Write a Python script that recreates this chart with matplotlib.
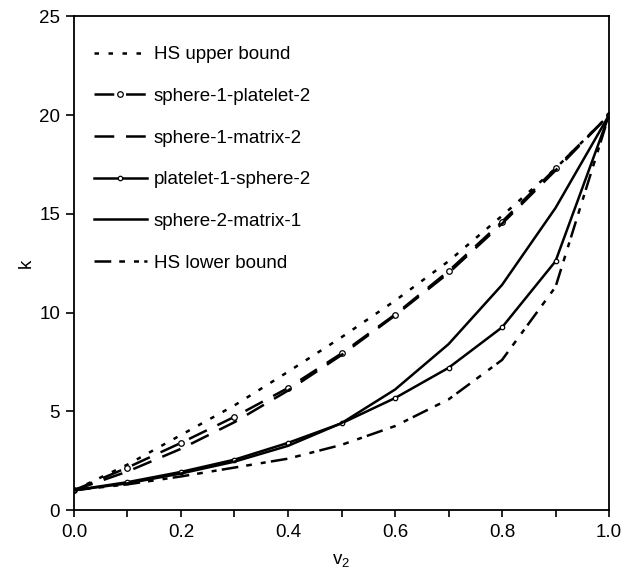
import matplotlib
matplotlib.use('Agg')
import matplotlib.pyplot as plt

plt.rcParams['font.family'] = ['Liberation Sans', 'DejaVu Sans']
plt.rcParams['mathtext.default'] = 'regular'

v2 = [0.0, 0.1, 0.2, 0.3, 0.4, 0.5, 0.6, 0.7, 0.8, 0.9, 1.0]

hs_upper = [1.0, 2.3, 3.8, 5.3, 7.0, 8.75, 10.6, 12.6, 14.9, 17.3, 20.0]
sph1_plt2 = [1.0, 2.15, 3.4, 4.72, 6.18, 7.93, 9.9, 12.1, 14.6, 17.3, 20.0]
sph1_mat2 = [1.0, 1.95, 3.1, 4.45, 6.05, 7.85, 9.85, 12.0, 14.5, 17.2, 20.0]
plt1_sph2 = [1.0, 1.41, 1.93, 2.55, 3.4, 4.39, 5.67, 7.2, 9.25, 12.6, 20.0]
sph2_mat1 = [1.0, 1.35, 1.85, 2.45, 3.25, 4.4, 6.1, 8.4, 11.4, 15.3, 20.0]
hs_lower = [1.0, 1.3, 1.7, 2.15, 2.6, 3.3, 4.25, 5.6, 7.6, 11.3, 20.0]

labels = ['HS upper bound', 'sphere-1-platelet-2', 'sphere-1-matrix-2',
          'platelet-1-sphere-2', 'sphere-2-matrix-1', 'HS lower bound']

fig = plt.figure(figsize=(6.4, 5.68), dpi=100)
ax = fig.add_axes([0.1156, 0.1021, 0.836, 0.869])

lw = 1.8
ax.plot(v2, hs_upper, color='black', lw=lw, dashes=(1.8, 3.8), label=labels[0])
ax.plot(v2, sph1_plt2, color='black', lw=lw, dashes=(7.9, 4.7), marker='o', ms=4,
        mfc='white', mec='black', mew=0.9, label=labels[1])
ax.plot(v2, sph1_mat2, color='black', lw=lw, dashes=(7.9, 4.7), label=labels[2])
ax.plot(v2, plt1_sph2, color='black', lw=lw, marker='o', ms=3.2,
        mfc='white', mec='black', mew=0.9, label=labels[3])
ax.plot(v2, sph2_mat1, color='black', lw=lw, label=labels[4])
ax.plot(v2, hs_lower, color='black', lw=lw, dashes=(6.7, 3.2, 2.3, 3.6, 2, 2.1), label=labels[5])

ax.set_xlim(0, 1.0)
ax.set_ylim(0, 25)
ax.set_xticks([0.0, 0.2, 0.4, 0.6, 0.8, 1.0])
ax.set_xticklabels(['0.0', '0.2', '0.4', '0.6', '0.8', '1.0'])
ax.set_xticks([0.1, 0.3, 0.5, 0.7, 0.9], minor=True)
ax.set_yticks([0, 5, 10, 15, 20, 25])
ax.tick_params(axis='both', which='both', direction='out', labelsize=13.5, width=1.2, color='black')
ax.tick_params(axis='x', which='both', length=5, pad=5)
ax.tick_params(axis='y', length=6, pad=4)
for s in ax.spines.values():
    s.set_linewidth(1.3)

ax.set_xlabel('v$_2$', fontsize=13.5, labelpad=8)
ax.set_ylabel('k', fontsize=13.5, labelpad=3)

ax.legend(loc='upper left', bbox_to_anchor=(0.037, 0.940), frameon=False,
          fontsize=13.5, handlelength=2.83, labelspacing=1.31, handletextpad=0.37,
          borderpad=0, borderaxespad=0)

fig.savefig('out.png', dpi=100)
